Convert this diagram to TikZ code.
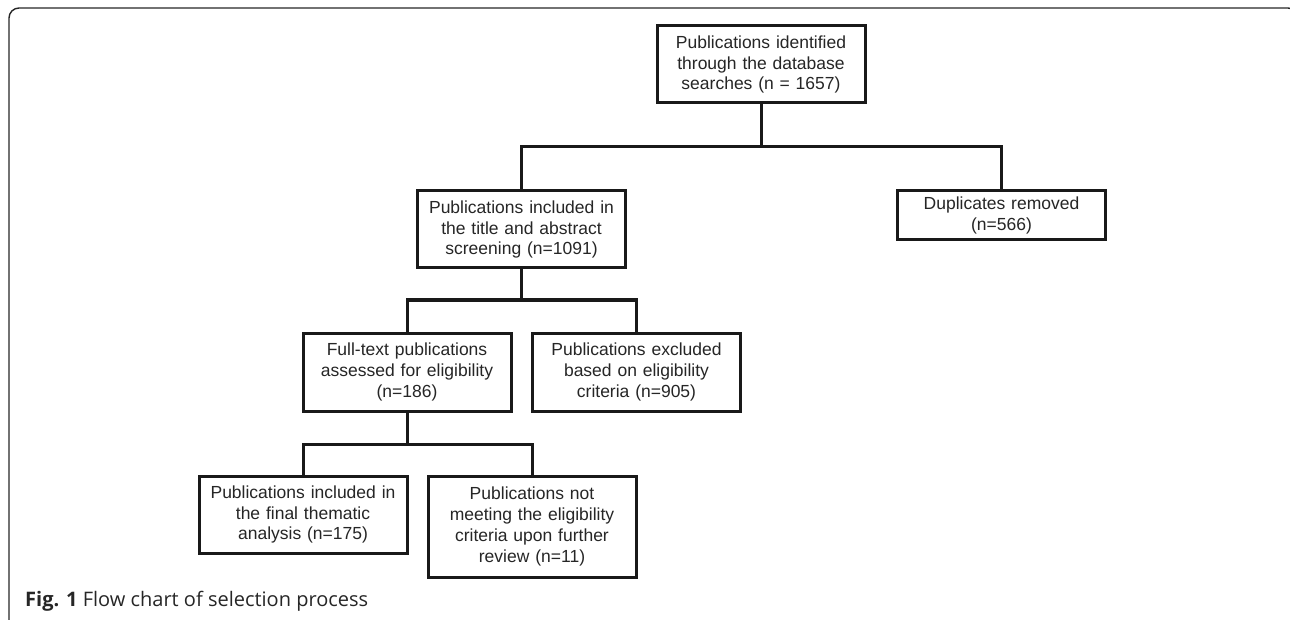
\documentclass[tikz,border=0pt]{standalone}
\usepackage{fontspec}
\setmainfont{Liberation Sans}
\newfontfamily\capfont{Open Sans}
\begin{document}
\begin{tikzpicture}[x=1pt,y=-1pt,
  box/.style={draw=black!90, line width=3pt, fill=white, align=center, inner sep=0pt,
    minimum width=208pt, text width=204pt, text=black!85,
    font=\fontsize{17.5}{20.7}\selectfont},
  link/.style={line width=3pt, draw=black!90}]
\useasboundingbox (0,0) rectangle (1290,620);
\begin{scope}
\clip (0,0) rectangle (1290,620);
\draw[line width=1.4pt, black!85, rounded corners=10pt] (9,8) rectangle (1298,700);
\end{scope}
\node[box, minimum height=77pt] (top) at (761,64.5) {Publications identified\\through the database\\searches (n = 1657)};
\node[box, minimum height=77pt] (mid) at (521.5,229.5) {Publications included in\\the title and abstract\\screening (n=1091)};
\node[box, minimum height=49pt] (dup) at (1001.5,215.5) {Duplicates removed\\(n=566)};
\node[box, minimum height=78pt] (full) at (407,372) {Full-text publications\\assessed for eligibility\\(n=186)};
\node[box, minimum height=78pt] (excl) at (636.5,372) {Publications excluded\\based on eligibility\\criteria (n=905)};
\node[box, minimum height=77pt] (final) at (303,514.5) {Publications included in\\the final thematic\\analysis (n=175)};
\node[box, minimum height=101pt] (notm) at (532,526.5) {Publications not\\meeting the eligibility\\criteria upon further\\review (n=11)};
\coordinate (j1) at (761,147);
\coordinate (j2) at (521.5,300);
\coordinate (j3) at (407,444);
\draw[link] (top.south) -- (j1);
\draw[link] (mid.north) |- (j1);
\draw[link] (dup.north) |- (j1);
\draw[link] (mid.south) -- (j2);
\draw[link] (full.north) |- (j2);
\draw[link] (excl.north) |- (j2);
\draw[link] (full.south) -- (j3);
\draw[link] (final.north) |- (j3);
\draw[link] (notm.north) |- (j3);
\node[anchor=base west, inner sep=0pt, font=\capfont\fontsize{20}{24}\selectfont, text=black!85] (cap) at (25,606) {\textbf{Fig. 1} Flow chart of selection process};
\end{tikzpicture}
\end{document}
